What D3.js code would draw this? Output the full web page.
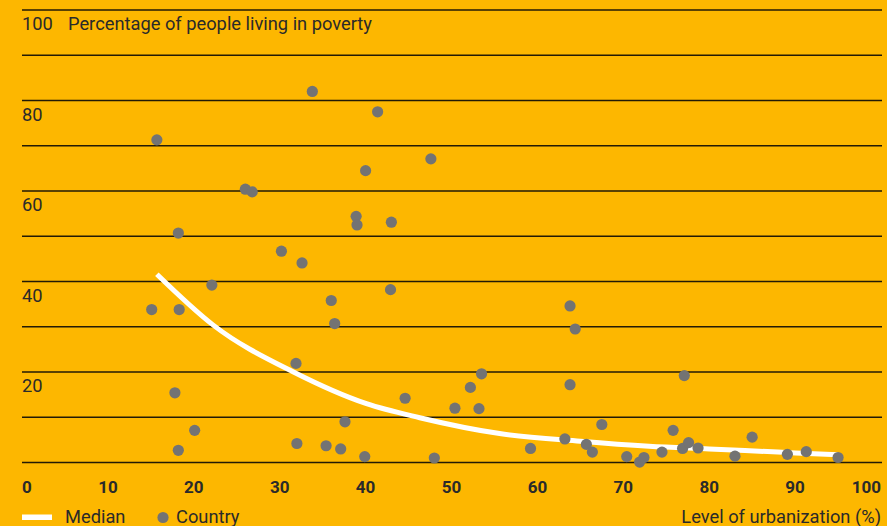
<!DOCTYPE html>
<html>
<head>
<meta charset="utf-8">
<script src="https://cdn.jsdelivr.net/npm/d3@7/dist/d3.min.js"></script>
<style>
  html, body { margin: 0; padding: 0; background: #FDB700; }
  svg { display: block; }
  text { font-family: Roboto, "Noto Sans", sans-serif; fill: #2a2a2a; }
</style>
</head>
<body>
<svg id="chart" width="887" height="526"></svg>
<script>
// Country points: level of urbanization (%) and percentage living in poverty
const urbanization = [15.7, 33.8, 41.4, 47.6, 26.0, 26.8, 40.0, 38.9, 39.0, 43.0,
  18.2, 30.2, 32.6, 22.1, 42.9, 36.0, 15.1, 18.3, 36.4, 63.8,
  64.4, 31.9, 17.8, 52.2, 53.5, 63.8, 77.1, 44.6, 50.4, 53.2,
  37.6, 20.1, 67.5, 75.8, 85.0, 32.0, 35.4, 37.1, 18.2, 39.9,
  48.0, 59.2, 63.2, 65.7, 66.4, 70.4, 71.9, 72.4, 74.5, 76.9,
  77.6, 78.7, 83.0, 89.1, 91.3, 95.0];
const poverty = [71.3, 82.0, 77.5, 67.1, 60.4, 59.8, 64.5, 54.4, 52.5, 53.1,
  50.7, 46.7, 44.1, 39.2, 38.2, 35.8, 33.8, 33.8, 30.7, 34.6,
  29.5, 21.9, 15.4, 16.6, 19.6, 17.2, 19.2, 14.2, 12.0, 11.9,
  9.0, 7.1, 8.4, 7.1, 5.6, 4.2, 3.7, 3.0, 2.7, 1.3,
  1.0, 3.1, 5.2, 4.0, 2.3, 1.3, 0.1, 1.1, 2.3, 3.1,
  4.4, 3.2, 1.4, 1.8, 2.4, 1.1];

// Median curve
const medianX = [15.7, 22.3, 31.6, 40.1, 46.3, 55.6, 65.0, 73.0, 80.0, 88.0, 95.0];
const medianY = [41.6, 30.3, 20.0, 13.0, 9.9, 6.4, 4.7, 3.6, 3.0, 2.3, 1.7];

const xTicks = [0, 10, 20, 30, 40, 50, 60, 70, 80, 90, 100];
const yGrid = [0, 10, 20, 30, 40, 50, 60, 70, 80, 90, 100];
const yLabels = [20, 40, 60, 80, 100];

const svg = d3.select("#chart");
const W = 887, H = 526;

svg.append("rect").attr("width", W).attr("height", H).attr("fill", "#FDB700");

const x = d3.scaleLinear().domain([0, 100]).range([22, 881]);
const y = d3.scaleLinear().domain([0, 100]).range([462.5, 10]);

// gridlines
svg.append("g").selectAll("line").data(yGrid).join("line")
  .attr("x1", x(0)).attr("x2", 882)
  .attr("y1", d => y(d)).attr("y2", d => y(d))
  .attr("stroke", "#221a05").attr("stroke-width", 1.6);

// y labels (below gridline)
svg.append("g").selectAll("text").data(yLabels).join("text")
  .attr("x", 22).attr("y", d => y(d) + 20)
  .attr("font-size", 18.3)
  .text(d => d);

svg.append("text")
  .attr("x", 68).attr("y", y(100) + 20)
  .attr("font-size", 18.3)
  .text("Percentage of people living in poverty");

// x axis tick labels
svg.append("g").selectAll("text").data(xTicks).join("text")
  .attr("x", d => x(d)).attr("y", 493)
  .attr("font-size", 17).attr("font-weight", "bold")
  .attr("fill", "#1a1a1a")
  .attr("text-anchor", d => d === 0 ? "start" : (d === 100 ? "end" : "middle"))
  .text(d => d);

// median line
const medianData = medianX.map((d, i) => [d, medianY[i]]);
svg.append("path")
  .datum(medianData)
  .attr("fill", "none")
  .attr("stroke", "#ffffff")
  .attr("stroke-width", 5)
  .attr("d", d3.line().x(d => x(d[0])).y(d => y(d[1])).curve(d3.curveMonotoneX));

// points
const pts = urbanization.map((d, i) => [d, poverty[i]]);
svg.append("g").selectAll("circle").data(pts).join("circle")
  .attr("cx", d => x(d[0])).attr("cy", d => y(d[1]))
  .attr("r", 5.6)
  .attr("fill", "#737373");

// legend
svg.append("rect").attr("x", 22).attr("y", 514.5).attr("width", 30).attr("height", 5.5).attr("fill", "#ffffff");
svg.append("text").attr("x", 65).attr("y", 522.5).attr("font-size", 18.3).text("Median");
svg.append("circle").attr("cx", 163).attr("cy", 517.5).attr("r", 5.6).attr("fill", "#737373");
svg.append("text").attr("x", 176).attr("y", 523).attr("font-size", 18.3).text("Country");
svg.append("text").attr("x", 881).attr("y", 523).attr("font-size", 18.3).attr("text-anchor", "end")
  .text("Level of urbanization (%)");
</script>
</body>
</html>
